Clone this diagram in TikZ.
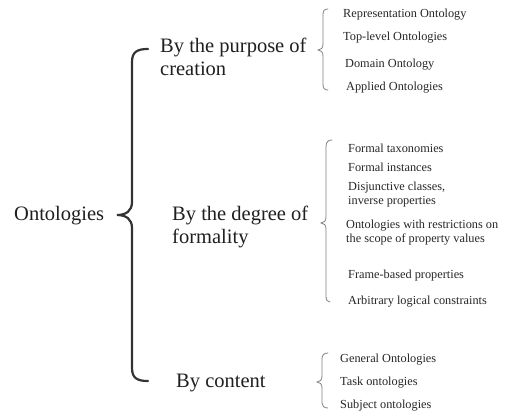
\documentclass[tikz,border=0pt]{standalone}
\usepackage{fontspec}
\setmainfont{Liberation Serif}
\begin{document}
\begin{tikzpicture}[x=1pt,y=-1pt,
  big/.style={anchor=base west,inner sep=0pt,text=black!88,font=\fontsize{20.5}{24}\selectfont},
  small/.style={anchor=base west,inner sep=0pt,text=black!85,font=\fontsize{12.3}{14}\selectfont},
  bigbrace/.style={draw=black!80,line width=2.2pt,line cap=round},
  smallbrace/.style={draw=black!50,line width=0.8pt,line cap=round}]
\useasboundingbox (0,0) rectangle (506,412);
% main labels
\node[big] (onto) at (14,220) {Ontologies};
\node[big] (purp1) at (160,53) {By the purpose of};
\node[big] (purp2) at (160,75) {creation};
\node[big] (form1) at (172,220) {By the degree of};
\node[big] (form2) at (172,243) {formality};
\node[big] (cont) at (176,387) {By content};
% group 1
\node[small] (g1a) at (343,18) {Representation Ontology};
\node[small] (g1b) at (343,41) {Top-level Ontologies};
\node[small] (g1c) at (345,67) {Domain Ontology};
\node[small] (g1d) at (346,91) {Applied Ontologies};
% group 2
\node[small] (g2a) at (348,152) {Formal taxonomies};
\node[small] (g2b) at (348,171) {Formal instances};
\node[small] (g2c) at (348,190) {Disjunctive classes,};
\node[small] (g2d) at (348,204) {inverse properties};
\node[small] (g2e) at (346,228) {Ontologies with restrictions on};
\node[small] (g2f) at (346,242) {the scope of property values};
\node[small] (g2g) at (348,278) {Frame-based properties};
\node[small] (g2h) at (348,304) {Arbitrary logical constraints};
% group 3
\node[small] (g3a) at (340,362) {General Ontologies};
\node[small] (g3b) at (340,385) {Task ontologies};
\node[small] (g3c) at (340,408) {Subject ontologies};
% big brace
\coordinate (bt) at (148,49);
\coordinate (bm) at (117,215);
\coordinate (bb) at (148,381);
\draw[bigbrace] (bt) .. controls (137,49) and (132,52) .. (132,62)
  -- (132,202) .. controls (132,211) and (126,215) .. (bm)
  .. controls (126,215) and (132,219) .. (132,228)
  -- (132,368) .. controls (132,378) and (137,381) .. (bb);
% small brace 1
\coordinate (s1t) at (328,9);
\coordinate (s1m) at (318,50);
\coordinate (s1b) at (328,90);
\draw[smallbrace] (s1t) .. controls (324,9) and (323,11) .. (323,15)
  -- (323,44) .. controls (323,48) and (321,50) .. (s1m)
  .. controls (321,50) and (323,52) .. (323,56)
  -- (323,84) .. controls (323,88) and (324,90) .. (s1b);
% small brace 2
\coordinate (s2t) at (332,140);
\coordinate (s2m) at (321,223);
\coordinate (s2b) at (330,302);
\draw[smallbrace] (s2t) .. controls (328,140) and (326,142) .. (326,147)
  -- (326,217) .. controls (326,221) and (324,223) .. (s2m)
  .. controls (324,223) and (326,225) .. (326,229)
  -- (326,296) .. controls (326,300) and (327,302) .. (s2b);
% small brace 3
\coordinate (s3t) at (328,353);
\coordinate (s3m) at (317,382);
\coordinate (s3b) at (328,408);
\draw[smallbrace] (s3t) .. controls (324,353) and (322,355) .. (322,359)
  -- (322,376) .. controls (322,380) and (320,382) .. (s3m)
  .. controls (320,382) and (322,384) .. (322,388)
  -- (322,403) .. controls (322,406) and (324,408) .. (s3b);
\end{tikzpicture}
\end{document}
